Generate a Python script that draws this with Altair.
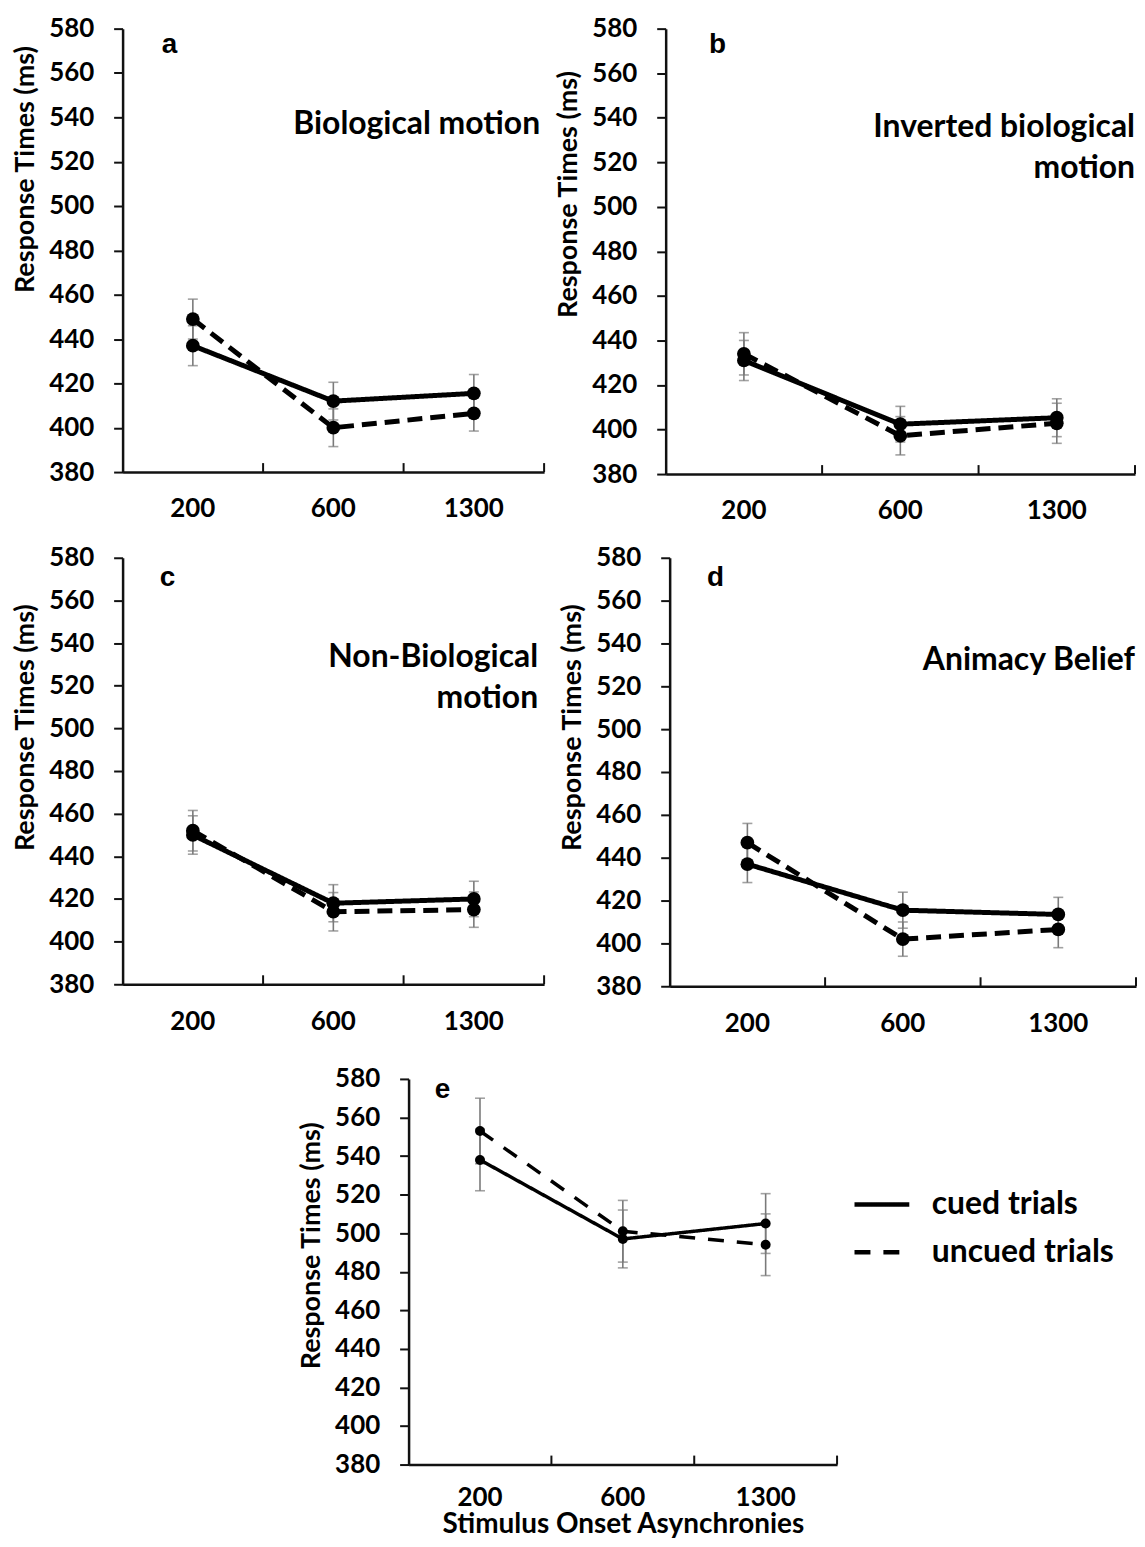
import altair as alt
import pandas as pd

soa = ["200", "600", "1300"]
conds = ["cued trials", "uncued trials"]

a_cued = [437, 412, 415.5]
a_uncued = [449, 400, 406.5]
a_cued_err = [9, 8.5, 8.5]
a_uncued_err = [9, 8.5, 8]

b_cued = [431, 402.4, 405.3]
b_uncued = [434, 397.2, 402.8]
b_cued_err = [9, 8, 8.5]
b_uncued_err = [9.5, 8.6, 9]

c_cued = [450, 418, 420]
c_uncued = [452, 414, 415]
c_cued_err = [9, 8.7, 8.3]
c_uncued_err = [9.5, 9, 8.3]

d_cued = [437, 415.5, 413.5]
d_uncued = [447, 402, 406.5]
d_cued_err = [8.6, 8.4, 8]
d_uncued_err = [9, 8, 8.5]

e_cued = [538, 497, 505]
e_uncued = [553, 501, 494]
e_cued_err = [16, 15, 15.5]
e_uncued_err = [17, 16, 16]

y_ticks = list(range(380, 581, 20))
FONT = "Lato"


def make_df(cued, uncued, cued_err, uncued_err):
    rows = []
    for cond, vals, errs in [(conds[0], cued, cued_err), (conds[1], uncued, uncued_err)]:
        for s, v, e in zip(soa, vals, errs):
            rows.append({"soa": s, "cond": cond, "rt": v, "lo": v - e, "hi": v + e})
    return pd.DataFrame(rows)


def panel(cued, uncued, cued_err, uncued_err, width, height, letter, letter_xy,
          label, label_xy, title_y, lw, dash, pt_size, legend=False, xtitle=None):
    df = make_df(cued, uncued, cued_err, uncued_err)
    if xtitle:
        xaxis = alt.Axis(labelAngle=0, ticks=False, labelPadding=20, labelFontSize=26,
                         domainWidth=2.5, domainColor="#111",
                         title=xtitle, titleFontSize=28, titlePadding=0)
    else:
        xaxis = alt.Axis(labelAngle=0, ticks=False, labelPadding=24, labelFontSize=26,
                         domainWidth=2.5, domainColor="#111", title=None)
    x = alt.X("soa:N", sort=soa,
              scale=alt.Scale(domain=soa, paddingInner=0, paddingOuter=0), axis=xaxis)
    yaxis = alt.Axis(values=y_ticks, title="Response Times (ms)", titleFontSize=27,
                     titleX=-83, titleY=title_y, labelFontSize=26, labelPadding=20,
                     tickSize=9, tickWidth=2, domainWidth=2.5, domainColor="#111")
    yscale = alt.Scale(domain=[380, 580], nice=False, zero=False)
    base = alt.Chart(df)

    err = base.mark_errorbar(ticks=True, size=10, thickness=1.6, color="#7a7a7a").encode(
        x=x,
        y=alt.Y("lo:Q", scale=yscale, axis=yaxis),
        y2="hi:Q",
    )
    if legend:
        leg = alt.Legend(orient="right", offset=15, title=" ", titleFontSize=12,
                         titlePadding=84,
                         symbolType="stroke", symbolStrokeWidth=4.5, symbolSize=3025,
                         symbolStrokeColor="black", labelFont=FONT, labelFontWeight="bold",
                         labelFontSize=32, labelColor="black", rowPadding=2, labelOffset=20,
                         labelLimit=400)
    else:
        leg = None
    line = base.mark_line(color="black", strokeWidth=lw).encode(
        x=x,
        y=alt.Y("rt:Q", scale=yscale, axis=yaxis),
        strokeDash=alt.StrokeDash("cond:N", scale=alt.Scale(domain=conds, range=[[1, 0], dash]),
                                  legend=leg),
        detail="cond:N",
    )
    pts = base.mark_point(filled=True, size=pt_size, color="black", opacity=1).encode(
        x=x,
        y=alt.Y("rt:Q", scale=yscale, axis=yaxis),
        detail="cond:N",
    )
    # category boundary ticks (pointing inward)
    tick_df = pd.DataFrame({"soa": soa})
    ticks = alt.Chart(tick_df).mark_rule(color="#111", strokeWidth=2).encode(
        x=alt.X("soa:N", sort=soa, bandPosition=1,
                scale=alt.Scale(domain=soa, paddingInner=0, paddingOuter=0), axis=xaxis),
        y=alt.value(height - 9),
        y2=alt.value(height),
    )
    let = alt.Chart(pd.DataFrame({"t": [letter]})).mark_text(
        font="Liberation Sans", fontWeight="bold", fontSize=28, align="center",
        baseline="middle", color="black").encode(
        text="t:N", x=alt.value(letter_xy[0]), y=alt.value(letter_xy[1]))
    layers = [err, line, pts, ticks, let]
    if label:
        lab = alt.Chart(pd.DataFrame({"t": [label]})).mark_text(
            font=FONT, fontWeight="bold", fontSize=32, align="right", baseline="middle",
            color="black", lineBreak="\n", lineHeight=41).encode(
            text="t:N", x=alt.value(label_xy[0]), y=alt.value(label_xy[1]))
        layers.append(lab)
    return alt.layer(*layers).properties(width=width, height=height)


pa = panel(a_cued, a_uncued, a_cued_err, a_uncued_err, 423, 445, "a", (47, 16),
           "Biological motion", (419, 96), 141, 5, [15, 8], 190)
pb = panel(b_cued, b_uncued, b_cued_err, b_uncued_err, 471, 447, "b", (52, 16),
           "Inverted biological\nmotion", (471, 99), 166, 5, [15, 8], 190)
pc = panel(c_cued, c_uncued, c_cued_err, c_uncued_err, 423, 428, "c", (45, 20),
           "Non-Biological\nmotion", (417, 100), 170, 5, [15, 8], 190)
pd_ = panel(d_cued, d_uncued, d_cued_err, d_uncued_err, 468, 430, "d", (46, 20),
            "Animacy Belief", (467, 103), 170, 5, [15, 8], 190)
pe = panel(e_cued, e_uncued, e_cued_err, e_uncued_err, 430, 387, "e", (34, 11),
           None, None, 167, 3.5, [16, 13], 100, legend=True,
           xtitle="Stimulus Onset Asynchronies")

spacer = alt.Chart(pd.DataFrame({"v": [0]})).mark_point(opacity=0).properties(width=166, height=10)

IND = dict(strokeDash="independent")
row1 = alt.hconcat(pa, pb, spacing=10).resolve_scale(**IND).resolve_legend(**IND)
row2 = alt.hconcat(pc, pd_, spacing=14).resolve_scale(**IND).resolve_legend(**IND)
row3 = alt.hconcat(spacer, pe, spacing=10).resolve_scale(**IND).resolve_legend(**IND)

top = alt.vconcat(row1, row2, spacing=21).resolve_scale(**IND).resolve_legend(**IND)
chart = alt.vconcat(top, row3, spacing=30).resolve_scale(**IND).resolve_legend(**IND).properties(
    padding={"left": 3, "top": 5, "right": 0, "bottom": 0}, background="white"
).configure_view(strokeWidth=0).configure_axis(
    labelFont=FONT, titleFont=FONT, labelFontWeight="bold", titleFontWeight="bold",
    labelColor="black", titleColor="black", grid=False, tickColor="#111"
).configure_legend(titleFont=FONT)

chart.save("out.html", embed_options={"renderer": "svg", "actions": False})
